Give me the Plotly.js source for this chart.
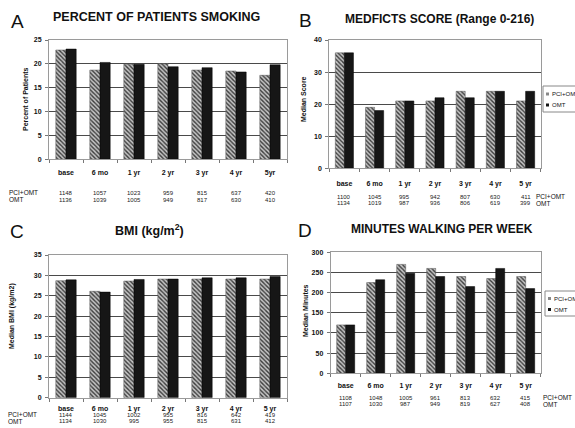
<!DOCTYPE html>
<html>
<head>
<meta charset="utf-8">
<script src="https://cdn.plot.ly/plotly-3.0.1.min.js"></script>
<style>html,body{margin:0;padding:0;background:#fff;}#chart{width:575px;height:428px;}</style>
</head>
<body>
<div id="chart"></div>
<script>
// ---- data ----
var catsA = ['base', '6 mo', '1 yr', '2 yr', '3 yr', '4 yr', '5yr'];
var catsB = ['base', '6 mo', '1 yr', '2 yr', '3 yr', '4 yr', '5 yr'];
var catsC = ['base', '6 mo', '1 yr', '2 yr', '3 yr', '4 yr', '5 yr'];
var catsD = ['base', '6 mo', '1 yr', '2 yr', '3 yr', '4 yr', '5 yr'];

var smokingPCI = [22.9, 18.7, 19.9, 20.0, 18.7, 18.5, 17.6];
var smokingOMT = [23.1, 20.3, 19.9, 19.4, 19.2, 18.3, 19.8];
var medfictsPCI = [36, 19, 21, 21, 24, 24, 21];
var medfictsOMT = [36, 18, 21, 22, 22, 24, 24];
var bmiPCI = [28.7, 26.1, 28.6, 29.1, 29.1, 29.1, 29.1];
var bmiOMT = [28.9, 25.9, 29.0, 29.1, 29.4, 29.4, 29.7];
var walkPCI = [120, 225, 270, 260, 240, 235, 240];
var walkOMT = [120, 232, 248, 240, 215, 260, 210];

var nA_PCI = [1148, 1057, 1023, 959, 815, 637, 420];
var nA_OMT = [1136, 1039, 1005, 949, 817, 630, 410];
var nB_PCI = [1100, 1045, 995, 942, 807, 630, 411];
var nB_OMT = [1134, 1019, 987, 936, 806, 619, 399];
var nC_PCI = [1144, 1045, 1002, 955, 816, 642, 419];
var nC_OMT = [1134, 1030, 995, 955, 815, 631, 412];
var nD_PCI = [1108, 1048, 1005, 961, 813, 632, 415];
var nD_OMT = [1107, 1030, 987, 949, 819, 627, 408];

var groupNames = ['PCI+OMT', 'OMT'];

// ---- styling ----
var FONT = 'Liberation Sans, Arial, sans-serif';
var W = 575, H = 428;
function py(p) { return 1 - p / H; }
function px(p) { return p / W; }

var PCI_BG = '#c4c4c4', PCI_FG = '#3c3c3c', OMT_COL = '#161616';
var hatch = {
  color: PCI_BG,
  pattern: { shape: '\\', bgcolor: PCI_BG, fgcolor: PCI_FG, size: 3, solidity: 0.45 },
  line: { color: '#555', width: 0.5 }
};
var solid = { color: OMT_COL, line: { color: '#000', width: 0.5 } };

function pair(cats, pci, omt, xa, ya) {
  return [
    { type: 'bar', x: cats, y: pci, name: groupNames[0], xaxis: xa, yaxis: ya,
      marker: hatch, showlegend: false, hoverinfo: 'y' },
    { type: 'bar', x: cats, y: omt, name: groupNames[1], xaxis: xa, yaxis: ya,
      marker: solid, showlegend: false, hoverinfo: 'y' }
  ];
}

var data = [].concat(
  pair(catsA, smokingPCI, smokingOMT, 'x', 'y'),
  pair(catsB, medfictsPCI, medfictsOMT, 'x2', 'y2'),
  pair(catsC, bmiPCI, bmiOMT, 'x3', 'y3'),
  pair(catsD, walkPCI, walkOMT, 'x4', 'y4')
);

function xax(dom, anchor, standoff) {
  return {
    domain: dom, anchor: anchor, type: 'category',
    showline: true, mirror: true, linecolor: '#9a9a9a', linewidth: 1,
    ticks: 'outside', tickson: 'boundaries', ticklen: 3, tickcolor: '#777',
    ticklabelstandoff: standoff,
    tickfont: { family: FONT, size: 7, color: '#111', weight: 'bold' },
    showgrid: false, zeroline: false, fixedrange: true
  };
}
function yax(dom, anchor, range, dtick) {
  return {
    domain: dom, anchor: anchor, range: range, dtick: dtick,
    showline: true, mirror: true, linecolor: '#9a9a9a', linewidth: 1,
    ticks: 'outside', ticklen: 3, tickcolor: '#777', ticklabelstandoff: 2,
    tickfont: { family: FONT, size: 7, color: '#111', weight: 'bold' },
    showgrid: true, gridcolor: '#4a4a4a', gridwidth: 1, zeroline: false, fixedrange: true
  };
}

var annotations = [];
var shapes = [];
function txt(x, y, text, size, opts) {
  var a = { xref: 'paper', yref: 'paper', x: x, y: y, text: text, showarrow: false,
    xanchor: 'center', yanchor: 'middle',
    font: { family: FONT, size: size, color: '#111' } };
  for (var k in opts) {
    if (k === 'weight') a.font.weight = opts[k]; else a[k] = opts[k];
  }
  annotations.push(a);
}

// panel letters
txt(px(17), py(21), 'A', 19, {});
txt(px(305), py(20), 'B', 19, {});
txt(px(17), py(231), 'C', 19, {});
txt(px(305), py(230), 'D', 19, {});
// panel titles
txt(px(156), py(17), 'PERCENT OF PATIENTS SMOKING', 12.5, { weight: 'bold' });
txt(px(439), py(19), 'MEDFICTS SCORE (Range 0-216)', 12, { weight: 'bold' });
txt(px(149), py(230), 'BMI (kg/m<sup>2</sup>)', 12.5, { weight: 'bold' });
txt(px(442), py(229), 'MINUTES WALKING PER WEEK', 12, { weight: 'bold' });
// y axis titles
txt(px(25), py(99), 'Percent of Patients', 7, { textangle: -90, weight: 'bold' });
txt(px(303), py(99), 'Median Score', 7, { textangle: -90, weight: 'bold' });
txt(px(12), py(316), 'Median BMI (kg/m2)', 7, { textangle: -90, weight: 'bold' });
txt(px(305), py(311), 'Median Minutes', 7, { textangle: -90, weight: 'bold' });

// N-at-risk tables
function table(cats, pciN, omtN, xref, yPci, yOmt, labelX) {
  for (var i = 0; i < cats.length; i++) {
    annotations.push({ xref: xref, yref: 'paper', x: cats[i], y: py(yPci), text: String(pciN[i]),
      showarrow: false, xanchor: 'center', yanchor: 'middle',
      font: { family: FONT, size: 6, color: '#222' } });
    annotations.push({ xref: xref, yref: 'paper', x: cats[i], y: py(yOmt), text: String(omtN[i]),
      showarrow: false, xanchor: 'center', yanchor: 'middle',
      font: { family: FONT, size: 6, color: '#222' } });
  }
  txt(px(labelX), py(yPci), groupNames[0], 6.5, { xanchor: 'left' });
  txt(px(labelX), py(yOmt), groupNames[1], 6.5, { xanchor: 'left' });
}
table(catsA, nA_PCI, nA_OMT, 'x', 192.5, 199.5, 7);
table(catsB, nB_PCI, nB_OMT, 'x2', 196.5, 203, 534);
table(catsC, nC_PCI, nC_OMT, 'x3', 414.5, 421, 6);
table(catsD, nD_PCI, nD_OMT, 'x4', 397.5, 404, 541);

// compact legends (clipped by the right edge, as in the original)
function legendBox(x0, y0, y1, yPci, yOmt) {
  shapes.push({ type: 'rect', xref: 'paper', yref: 'paper', x0: px(x0), x1: px(590),
    y0: py(y1), y1: py(y0), line: { color: '#888', width: 1 }, fillcolor: '#fff', layer: 'above' });
  shapes.push({ type: 'rect', xref: 'paper', yref: 'paper', x0: px(x0 + 3), x1: px(x0 + 6),
    y0: py(yPci + 1.5), y1: py(yPci - 1.5), line: { width: 0 }, fillcolor: '#888', layer: 'above' });
  shapes.push({ type: 'rect', xref: 'paper', yref: 'paper', x0: px(x0 + 3), x1: px(x0 + 6),
    y0: py(yOmt + 1.5), y1: py(yOmt - 1.5), line: { width: 0 }, fillcolor: OMT_COL, layer: 'above' });
  txt(px(x0 + 7), py(yPci), groupNames[0], 6, { xanchor: 'left' });
  txt(px(x0 + 7), py(yOmt), groupNames[1], 6, { xanchor: 'left' });
}
legendBox(543, 86, 112, 94, 105);
legendBox(545, 291, 316, 298.5, 309.5);

var layout = {
  width: W, height: H,
  margin: { l: 0, r: 0, t: 0, b: 0, pad: 0, autoexpand: false },
  paper_bgcolor: '#fff', plot_bgcolor: '#fff',
  barmode: 'group', bargap: 0.4, bargroupgap: 0,
  font: { family: FONT, size: 7, color: '#111' },
  xaxis: xax([px(49), px(287)], 'y', 6),
  yaxis: yax([py(159.3), py(40)], 'x', [0, 25], 5),
  xaxis2: xax([px(329.3), px(540.7)], 'y2', 8),
  yaxis2: yax([py(168.3), py(40)], 'x2', [0, 40], 10),
  xaxis3: xax([px(49), px(287)], 'y3', 4),
  yaxis3: yax([py(397.7), py(255)], 'x3', [0, 35], 5),
  xaxis4: xax([px(330.7), px(540.7)], 'y4', 5),
  yaxis4: yax([py(373.3), py(252.3)], 'x4', [0, 300], 50),
  annotations: annotations,
  shapes: shapes,
  showlegend: false
};

Plotly.newPlot('chart', data, layout, { displayModeBar: false, staticPlot: true });
</script>
</body>
</html>
